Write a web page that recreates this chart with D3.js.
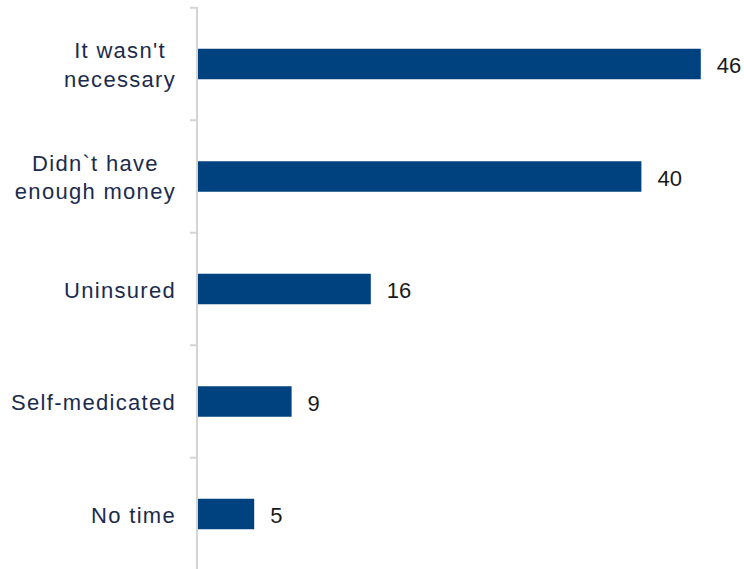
<!DOCTYPE html>
<html>
<head>
<meta charset="utf-8">
<script src="https://cdn.jsdelivr.net/npm/d3@7"></script>
<style>
  body { margin: 0; background: #fff; }
  svg { display: block; }
</style>
</head>
<body>
<svg id="chart" width="744" height="569"></svg>
<script>
// categories, top to bottom (lines split for wrapped labels)
var categories = ["It wasn't|necessary", "Didn`t have|enough money", "Uninsured", "Self-medicated", "No time"];
// share of answers (labels show rounded values)
var values = [45.8, 40.4, 15.8, 8.6, 5.2];

var svg = d3.select("#chart");
var axisX = 197;

var x = d3.scaleLinear().domain([0, 50]).range([axisX, axisX + 550]);
var y = d3.scaleBand().domain(categories).range([7.75, 570.25]).paddingInner(0).paddingOuter(0);
var barH = 30.5;

// bars
svg.selectAll("rect.bar")
    .data(values)
    .enter().append("rect")
    .attr("class", "bar")
    .attr("x", x(0))
    .attr("y", function(d, i) { return y(categories[i]) + y.bandwidth() / 2 - barH / 2; })
    .attr("width", function(d) { return x(d) - x(0); })
    .attr("height", barH)
    .style("fill", "#00427f");

// vertical axis line + ticks between bands
var axis = d3.axisLeft(y).tickSize(0).tickFormat("");
svg.append("g").attr("transform", "translate(" + axisX + ",0)").call(axis)
    .select(".domain").style("stroke", "#d4d4d4").style("stroke-width", 2)
    .attr("d", "M0,7V569");

var bounds = [7.75].concat(categories.map(function(c) { return y(c) + y.bandwidth(); }));
svg.selectAll("line.tick")
    .data(bounds)
    .enter().append("line")
    .attr("class", "tick")
    .attr("x1", axisX - 7).attr("x2", axisX)
    .attr("y1", function(d) { return d; }).attr("y2", function(d) { return d; })
    .style("stroke", "#d4d4d4").style("stroke-width", 2);

// category labels: block right aligned, lines centred inside it
var labelRight = 176;
var labels = svg.selectAll("text.cat")
    .data(categories)
    .enter().append("text")
    .attr("class", "cat")
    .attr("text-anchor", "middle")
    .style("font-family", "'Liberation Sans', Arial, sans-serif")
    .style("font-size", "22px")
    .style("letter-spacing", "1.3px")
    .style("fill", "#1b2b4d");

labels.each(function(c) {
    var lines = c.split("|");
    var cy = y(c) + y.bandwidth() / 2 + 8.5;
    var t = d3.select(this);
    var spans = lines.map(function(l, k) {
        return t.append("tspan")
            .attr("y", cy + (k - (lines.length - 1) / 2) * 28.4)
            .text(l);
    });
    var w = d3.max(spans, function(s) { return s.node().getComputedTextLength(); });
    spans.forEach(function(s) { s.attr("x", labelRight - w / 2); });
});

// value labels
svg.selectAll("text.val")
    .data(values)
    .enter().append("text")
    .attr("class", "val")
    .attr("x", function(d) { return x(d) + 16; })
    .attr("y", function(d, i) { return y(categories[i]) + y.bandwidth() / 2 + 9; })
    .style("font-family", "'Liberation Sans', Arial, sans-serif")
    .style("font-size", "22px")
    .style("fill", "#1a1a1a")
    .text(function(d) { return Math.round(d); });
</script>
</body>
</html>
